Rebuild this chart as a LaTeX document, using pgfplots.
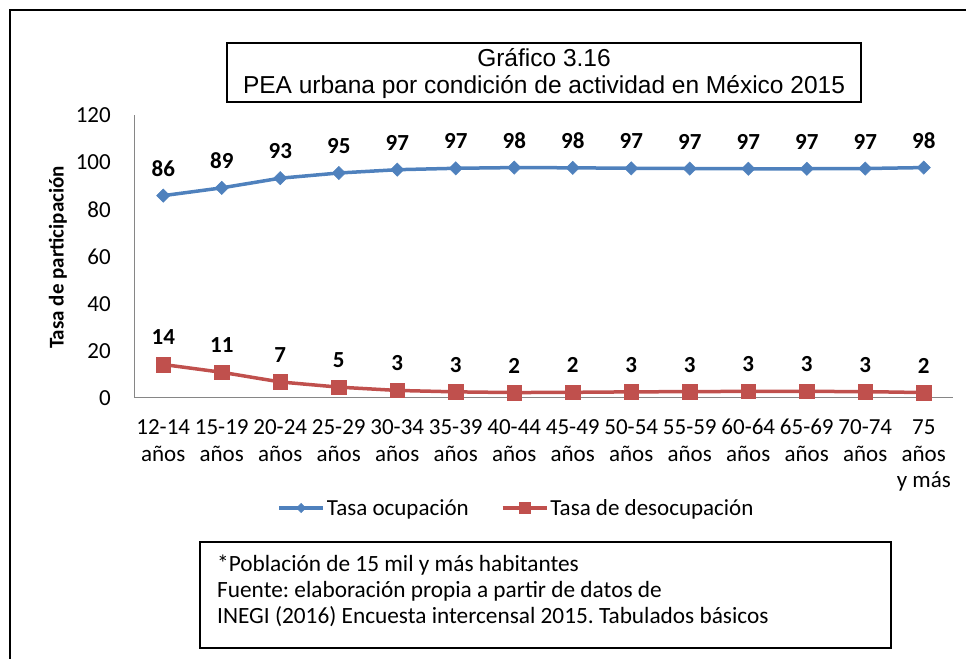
\documentclass[border=0pt]{standalone}
\usepackage{pgfplots}
\usepackage{pgfplotstable}
\pgfplotsset{compat=1.18}
\usepackage{fontspec}
\setmainfont{Carlito}
\newfontfamily\arialf{Liberation Sans}
\definecolor{xlblue}{HTML}{4F81BD}
\definecolor{xlred}{HTML}{C0504D}
\definecolor{axgray}{HTML}{868686}
\newcommand\tfont{\fontsize{23bp}{26.5bp}\selectfont}
\newcommand\nfont{\fontsize{23.3bp}{26bp}\selectfont}
\pgfplotstableread{
x ocup desoc
0 85.8 14.2
1 89.1 10.9
2 93.2 6.8
3 95.4 4.6
4 96.8 3.2
5 97.4 2.6
6 97.7 2.3
7 97.6 2.4
8 97.4 2.6
9 97.3 2.7
10 97.2 2.8
11 97.2 2.8
12 97.3 2.7
13 97.7 2.3
}\datatable
\frenchspacing
\begin{document}
\frenchspacing
\begin{tikzpicture}[x=1bp,y=1bp]
\useasboundingbox (0,0) rectangle (966,659);
\draw[line width=1.8bp] (10,-5) -- (10,649) -- (970,649);
\draw[line width=1.5bp] (227,557) rectangle (861,616);
\node[font=\arialf\fontsize{24.5bp}{28bp}\selectfont, anchor=base, inner sep=0pt] at (544,592) {Gráfico 3.16};
\node[font=\arialf\fontsize{24.5bp}{28bp}\selectfont, anchor=base, inner sep=0pt] at (544,565) {PEA urbana por condición de actividad en México 2015};
\begin{axis}[
  at={(134bp,261bp)}, anchor=south west,
  scale only axis, width=819bp, height=283bp,
  xmin=-0.5, xmax=13.5, ymin=0, ymax=120,
  ytick={0,20,...,120},
  xtick={0,...,13},
  xticklabels={{\strut 12-14\\\strut años},{\strut 15-19\\\strut años},{\strut 20-24\\\strut años},{\strut 25-29\\\strut años},{\strut 30-34\\\strut años},{\strut 35-39\\\strut años},{\strut 40-44\\\strut años},{\strut 45-49\\\strut años},{\strut 50-54\\\strut años},{\strut 55-59\\\strut años},{\strut 60-64\\\strut años},{\strut 65-69\\\strut años},{\strut 70-74\\\strut años},{\strut 75\\\strut años\\\strut y más}},
  axis x line=bottom, axis y line=left,
  axis line style={-, draw=axgray, line width=1bp},
  major tick length=0pt,
  /pgf/number format/assume math mode=true,
  tick label style={font=\tfont, text=black},
  xticklabel style={align=center, anchor=north, inner sep=0pt, yshift=-17.9bp},
  yticklabel style={anchor=east, inner sep=0pt, xshift=-23bp},
  ylabel={Tasa de participación},
  ylabel style={font=\bfseries\fontsize{21bp}{24bp}\selectfont, at={(axis description cs:-0.0928,0.4965)}, anchor=center},
  clip=false,
  nodes near coords={\pgfmathprintnumber[fixed,precision=0]{\pgfplotspointmeta}},
  every node near coord/.append style={font=\bfseries\tfont, text=black, anchor=center, yshift=27bp},
  legend columns=2,
  legend style={at={(axis description cs:0.467,-0.3887)}, anchor=center, draw=none, fill=none, font=\tfont, inner sep=0pt,
    /tikz/every even column/.append style={column sep=30bp}},
]
\addplot[color=xlblue, line width=3.5bp, mark=square*, mark size=4.7bp, mark options={rotate=45, fill=xlblue, draw=xlblue, line width=0.5bp},
  legend image code/.code={\draw[mark repeat=2,mark phase=2,mark size=3.3bp] plot coordinates {(0bp,0bp) (22bp,0bp) (44bp,0bp)};}]
  table[x=x,y=ocup]{\datatable};
\addlegendentry{Tasa ocupación}
\addplot[color=xlred, line width=3.5bp, mark=square*, mark size=7.3bp, mark options={fill=xlred, draw=xlred, line width=0.5bp},
  legend image code/.code={\draw[mark repeat=2,mark phase=2,mark size=5.5bp] plot coordinates {(0bp,0bp) (22bp,0bp) (44bp,0bp)};}]
  table[x=x,y=desoc]{\datatable};
\addlegendentry{Tasa de desocupación}
\end{axis}
\draw[line width=1.5bp] (200,11) rectangle (891,117);
\node[font=\nfont, anchor=base west, inner sep=0pt] at (217,87) {*Población de 15 mil y más habitantes};
\node[font=\nfont, anchor=base west, inner sep=0pt] at (217,61) {Fuente: elaboración propia a partir de datos de};
\node[font=\nfont, anchor=base west, inner sep=0pt] at (217,35) {INEGI (2016) Encuesta intercensal 2015. Tabulados básicos};
\end{tikzpicture}
\end{document}
